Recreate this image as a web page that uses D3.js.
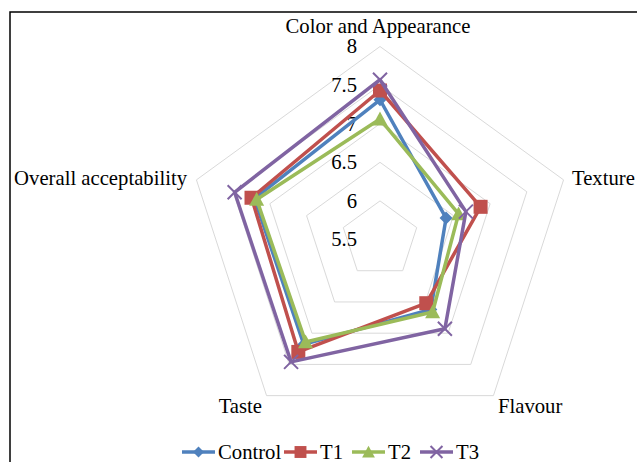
<!DOCTYPE html>
<html>
<head>
<meta charset="utf-8">
<script src="https://cdn.jsdelivr.net/npm/d3@7"></script>
<style>
  html, body { margin: 0; padding: 0; background: #fff; }
  svg { display: block; }
</style>
</head>
<body>
<svg id="chart" width="637" height="462"></svg>
<script>
// Sensory attributes (radar axes, clockwise from the top)
const attributes = ["Color and Appearance", "Texture", "Flavour", "Taste", "Overall acceptability"];
const seriesNames = ["Control", "T1", "T2", "T3"];
const controlScores = [7.31, 6.40, 6.62, 7.18, 7.21];
const t1Scores      = [7.43, 6.87, 6.52, 7.30, 7.25];
const t2Scores      = [7.06, 6.57, 6.66, 7.14, 7.18];
const t3Scores      = [7.57, 6.67, 6.93, 7.46, 7.48];
const tickValues = [5.5, 6, 6.5, 7, 7.5, 8];

const series = [
  { name: seriesNames[0], values: controlScores, color: "#4F81BD", marker: "diamond" },
  { name: seriesNames[1], values: t1Scores,      color: "#C0504D", marker: "square" },
  { name: seriesNames[2], values: t2Scores,      color: "#9BBB59", marker: "triangle" },
  { name: seriesNames[3], values: t3Scores,      color: "#8064A2", marker: "x" }
];

const FONT = "Liberation Serif";
const FS = 20.7;

const svg = d3.select("#chart");
const cx = 380, cy = 239.5, R = 193;

// outer frame
svg.append("rect").attr("x", 10).attr("y", 12).attr("width", 700).attr("height", 500)
  .attr("fill", "none").attr("stroke", "#000").attr("stroke-width", 1.5);

const r = d3.scaleLinear().domain([5.5, 8]).range([0, R]);
const angle = d3.scaleLinear().domain([0, attributes.length]).range([0, 2 * Math.PI]);
const pt = (i, v) => {
  const a = angle(i), d = r(v);
  return [cx + d * Math.sin(a), cy - d * Math.cos(a)];
};

function label(sel, x, y, anchor, txt) {
  return sel.append("text")
    .attr("x", x).attr("y", y)
    .attr("text-anchor", anchor)
    .attr("font-family", FONT)
    .attr("font-size", FS)
    .attr("fill", "#000")
    .text(txt);
}

// grid rings
const g = svg.append("g");
tickValues.slice(1).forEach(t => {
  g.append("polygon")
    .attr("points", attributes.map((_, i) => pt(i, t).join(",")).join(" "))
    .attr("fill", "none").attr("stroke", "#D9D9D9").attr("stroke-width", 1);
});

// tick labels along the top spoke
tickValues.forEach(t => {
  label(g, cx - 23, pt(0, t)[1], "end", t).attr("dy", "0.33em");
});

// category labels
const labelPos = [
  { x: 378, y: 33, anchor: "middle" },
  { x: 572, y: 185, anchor: "start" },
  { x: 498, y: 413, anchor: "start" },
  { x: 262, y: 413, anchor: "end" },
  { x: 187, y: 185, anchor: "end" }
];
attributes.forEach((a, i) => label(svg, labelPos[i].x, labelPos[i].y, labelPos[i].anchor, a));

// marker shapes; k scales the size
function drawMarker(sel, type, color, x, y, k) {
  if (type === "diamond") {
    const s = 6.5 * k;
    sel.append("path").attr("d", `M${x},${y-s}L${x+s},${y}L${x},${y+s}L${x-s},${y}Z`).attr("fill", color);
  } else if (type === "square") {
    const s = 7 * k;
    sel.append("rect").attr("x", x - s).attr("y", y - s).attr("width", 2 * s).attr("height", 2 * s).attr("fill", color);
  } else if (type === "triangle") {
    const s = 7.5 * k;
    sel.append("path").attr("d", `M${x},${y-s}L${x+s},${y+0.85*s}L${x-s},${y+0.85*s}Z`).attr("fill", color);
  } else {
    const s = 7 * k;
    sel.append("path").attr("d", `M${x-s},${y-s}L${x+s},${y+s}M${x-s},${y+s}L${x+s},${y-s}`)
      .attr("stroke", color).attr("stroke-width", 2);
  }
}

const line = d3.line().curve(d3.curveLinearClosed);
series.forEach(s => {
  const pts = s.values.map((v, i) => pt(i, v));
  const sg = svg.append("g");
  sg.append("path").attr("d", line(pts))
    .attr("fill", "none").attr("stroke", s.color).attr("stroke-width", 3.5)
    .attr("stroke-linejoin", "round");
  pts.forEach(p => drawMarker(sg, s.marker, s.color, p[0], p[1], 1));
});

// legend
const legendX = [182, 284, 352, 420];
series.forEach((s, k) => {
  const lg = svg.append("g");
  const x0 = legendX[k], y0 = 452;
  lg.append("line").attr("x1", x0).attr("x2", x0 + 33).attr("y1", y0).attr("y2", y0)
    .attr("stroke", s.color).attr("stroke-width", 3.5);
  drawMarker(lg, s.marker, s.color, x0 + 16.5, y0, 0.85);
  label(lg, x0 + 36, y0, "start", s.name).attr("dy", "0.33em");
});
</script>
</body>
</html>
